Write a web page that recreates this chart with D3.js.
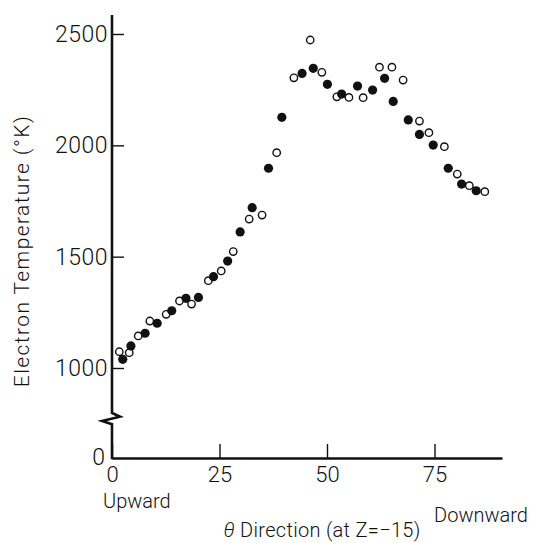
<!DOCTYPE html>
<html>
<head>
<meta charset="utf-8">
<script src="https://cdn.jsdelivr.net/npm/d3@7"></script>
<style>
  html, body { margin: 0; padding: 0; background: #fff; }
  svg text { font-family: "Roboto", "Liberation Sans", sans-serif; font-weight: 300; fill: #111; }
</style>
</head>
<body>
<svg id="chart" width="536" height="543"></svg>
<script>
// ---- data ----
const filledTheta = [2.5, 4.4, 7.7, 10.5, 13.9, 17.2, 20.1, 23.6, 26.9, 29.8, 32.6, 36.4, 39.5, 44.2, 46.8, 50.1, 53.4, 57.1, 60.6, 63.4, 65.4, 68.9, 71.5, 74.7, 78.2, 81.3, 84.7];
const filledTemp  = [1039, 1099, 1156, 1201, 1257, 1313, 1317, 1410, 1480, 1611, 1720, 1897, 2126, 2323, 2346, 2274, 2230, 2266, 2248, 2301, 2197, 2114, 2049, 2001, 1897, 1826, 1796];
const openTheta = [1.7, 4.0, 6.1, 8.8, 12.6, 15.7, 18.5, 22.4, 25.4, 28.2, 31.9, 34.9, 38.3, 42.3, 46.1, 48.8, 52.3, 55.1, 58.4, 62.2, 65.1, 67.7, 71.5, 73.7, 77.3, 80.3, 83.1, 86.7];
const openTemp  = [1073, 1069, 1144, 1211, 1241, 1301, 1287, 1392, 1436, 1523, 1669, 1687, 1967, 2303, 2473, 2328, 2218, 2215, 2214, 2351, 2351, 2293, 2109, 2057, 1994, 1871, 1819, 1792];
const xTicks = [0, 25, 50, 75];
const yTicks = [1000, 1500, 2000, 2500];
const yZeroLabel = "0";
const yTitle = "Electron Temperature (°K)";
const xTitleSymbol = "θ";
const xTitleText = " Direction (at Z=−15)";
const leftLabel = "Upward";
const rightLabel = "Downward";

// ---- layout ----
const svg = d3.select("#chart");
const x0 = 112, yBase = 458;
const x = d3.scaleLinear().domain([0, 90.7]).range([x0, 502]);
const y = d3.scaleLinear().domain([1000, 2500]).range([368, 34]);

// x axis
const xAxis = d3.axisBottom(x).tickValues(xTicks).tickFormat(d3.format("d"))
  .tickSizeInner(-14).tickSizeOuter(0).tickPadding(6);
const gx = svg.append("g").attr("transform", `translate(0,${yBase})`).call(xAxis);
gx.select(".domain").attr("stroke", "#111").attr("stroke-width", 2.6);
gx.selectAll(".tick line").attr("stroke", "#111").attr("stroke-width", 1.4);
gx.selectAll(".tick text").attr("font-size", 22).attr("dy", "0.71em").attr("y", 8);

// y axis (upper part via axis, domain drawn manually with break)
const yAxis = d3.axisLeft(y).tickValues(yTicks).tickFormat(d3.format("d"))
  .tickSizeInner(-12).tickSizeOuter(0).tickPadding(4);
const gy = svg.append("g").attr("transform", `translate(${x0},0)`).call(yAxis);
gy.select(".domain").remove();
gy.selectAll(".tick line").attr("stroke", "#111").attr("stroke-width", 1.4);
gy.selectAll(".tick text").attr("font-size", 23).attr("letter-spacing", 0.5);

// y axis line with break
const axisPath = d3.path();
axisPath.moveTo(x0, 15);
axisPath.lineTo(x0, 413);
axisPath.lineTo(x0 + 8, 416.7);
axisPath.lineTo(x0 - 10, 421);
axisPath.lineTo(x0, 424.3);
axisPath.lineTo(x0, yBase + 1.3);
svg.append("path").attr("d", axisPath.toString())
  .attr("fill", "none").attr("stroke", "#111").attr("stroke-width", 2.6).attr("stroke-linejoin", "miter");

// y "0" label
svg.append("text").attr("x", x0 - 7).attr("y", yBase - 1).attr("dy", "0.35em")
  .attr("text-anchor", "end").attr("font-size", 23).text(yZeroLabel);

// markers
const filled = filledTheta.map((t, i) => ({ t, v: filledTemp[i] }));
const open = openTheta.map((t, i) => ({ t, v: openTemp[i] }));
svg.append("g").selectAll("circle").data(open).join("circle")
  .attr("cx", d => x(d.t)).attr("cy", d => y(d.v)).attr("r", 3.7)
  .attr("fill", "#fff").attr("stroke", "#111").attr("stroke-width", 1.4);
svg.append("g").selectAll("circle").data(filled).join("circle")
  .attr("cx", d => x(d.t)).attr("cy", d => y(d.v)).attr("r", 4.6)
  .attr("fill", "#111");

// labels
svg.append("text").attr("x", 103).attr("y", 501).attr("dy", "0.35em")
  .attr("font-size", 20).text(leftLabel);
svg.append("text").attr("x", 528).attr("y", 515).attr("dy", "0.35em")
  .attr("text-anchor", "end").attr("font-size", 20).text(rightLabel);
const xt = svg.append("text").attr("x", 322).attr("y", 530).attr("dy", "0.35em")
  .attr("text-anchor", "middle").attr("font-size", 20).attr("letter-spacing", 0.3);
xt.append("tspan").attr("font-style", "italic").text(xTitleSymbol);
xt.append("tspan").text(xTitleText);

svg.append("text").attr("transform", "translate(22,251) rotate(-90)").attr("dy", "0.35em")
  .attr("text-anchor", "middle").attr("font-size", 21).attr("letter-spacing", 1.4).text(yTitle);
</script>
</body>
</html>
